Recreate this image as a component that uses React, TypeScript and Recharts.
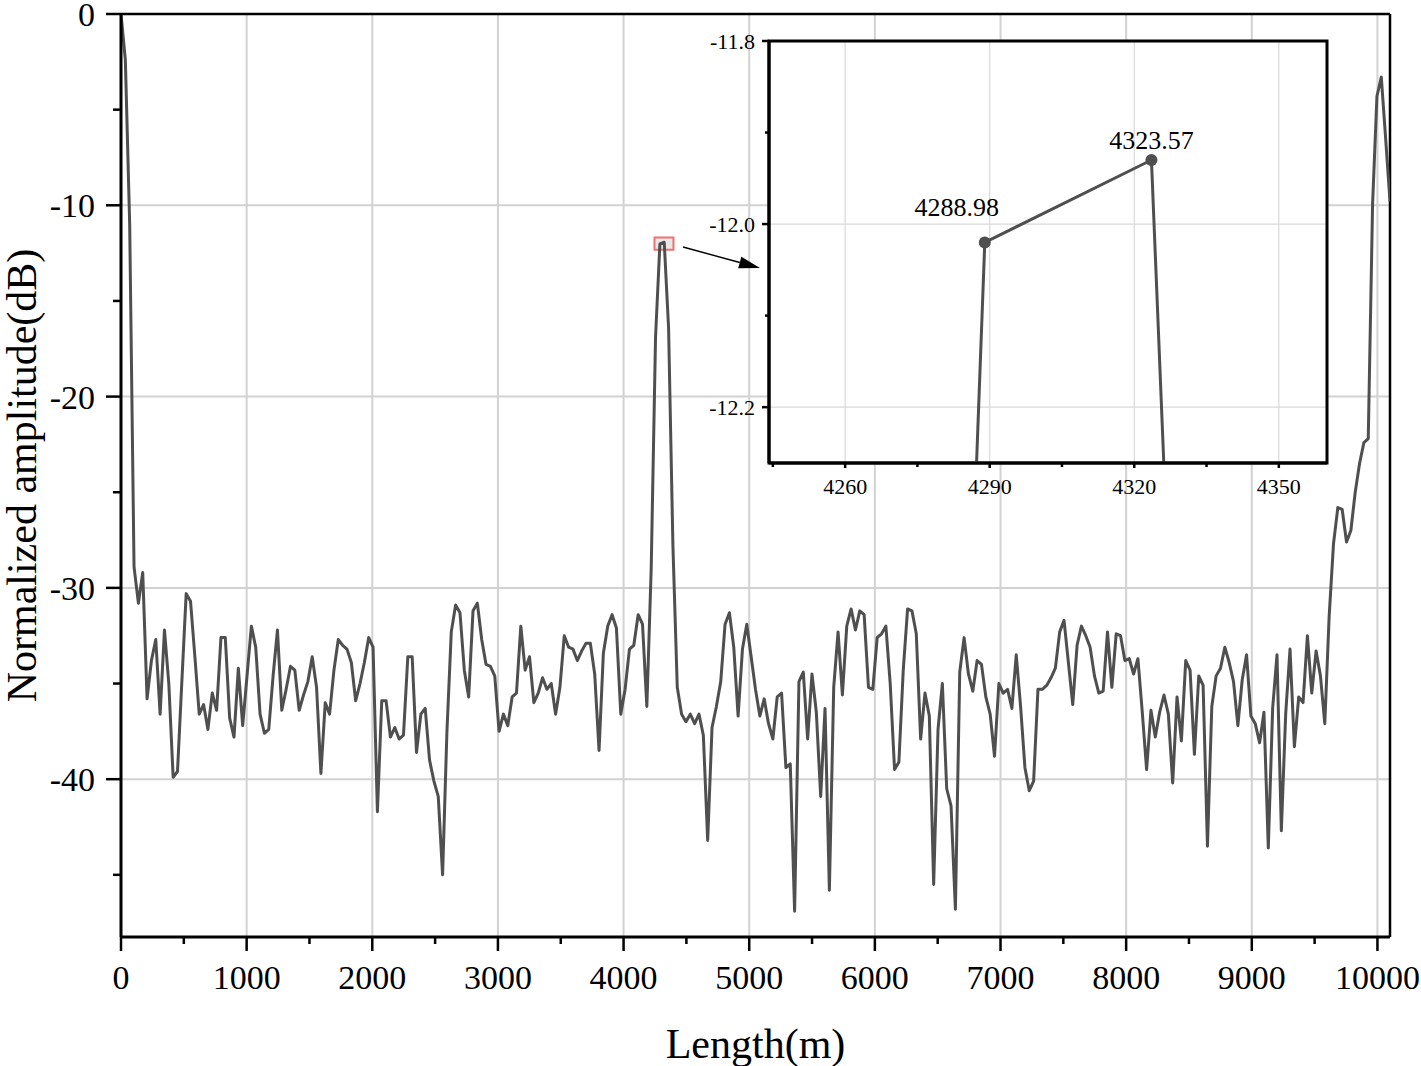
import { CartesianGrid, Line, LineChart, ReferenceArea, ReferenceLine, XAxis, YAxis } from "recharts";

const SERIF = '"Liberation Serif", "Times New Roman", serif';

// sample spacing of the trace, metres (4288.98 m is sample 124)
const STEP_M = 4288.98 / 124;

// normalized amplitude per sample, dB
const AMPLITUDE_DB = [
  0, -2.4, -11.0, -28.9, -30.8, -29.2, -35.8, -33.8, -32.7, -36.6,
  -32.2, -35.0, -39.9, -39.6, -34.9, -30.3, -30.7, -33.6, -36.6, -36.1,
  -37.4, -35.5, -36.4, -32.6, -32.6, -36.8, -37.8, -34.2, -37.2, -34.6,
  -32.0, -33.1, -36.6, -37.6, -37.4, -34.6, -32.2, -36.4, -35.3, -34.1,
  -34.3, -36.4, -35.6, -34.9, -33.6, -35.2, -39.7, -36.0, -36.6, -34.3,
  -32.7, -33.0, -33.2, -33.9, -35.9, -35.0, -33.9, -32.6, -33.1, -41.7,
  -35.9, -35.9, -37.8, -37.3, -37.9, -37.7, -33.6, -33.6, -38.6, -36.6,
  -36.3, -39.0, -40.1, -40.9, -45.0, -37.5, -32.3, -30.9, -31.3, -34.3,
  -35.7, -31.2, -30.8, -32.7, -34.0, -34.1, -34.6, -37.5, -36.6, -37.2,
  -35.7, -35.5, -32.0, -34.3, -33.6, -36.0, -35.5, -34.7, -35.3, -35.0,
  -36.6, -35.2, -32.5, -33.1, -33.2, -33.8, -33.3, -32.9, -32.9, -34.5,
  -38.5, -33.4, -32.0, -31.4, -32.1, -36.6, -35.3, -33.2, -33.0, -31.4,
  -31.9, -36.2, -29.0, -16.9, -12.02, -11.93, -16.4, -27.8, -35.2, -36.6,
  -37.0, -36.6, -37.1, -36.6, -37.7, -43.2, -37.3, -36.2, -34.9, -31.9,
  -31.3, -33.1, -36.7, -33.2, -31.9, -33.6, -35.3, -36.7, -35.8, -37.1,
  -37.9, -35.7, -35.5, -39.4, -39.2, -46.9, -34.9, -34.4, -37.9, -34.5,
  -36.5, -40.9, -36.3, -45.8, -35.2, -32.3, -35.6, -32.0, -31.1, -32.2,
  -31.2, -31.4, -35.2, -35.3, -32.6, -32.4, -32.0, -35.0, -39.5, -39.1,
  -34.3, -31.1, -31.2, -32.4, -37.9, -35.5, -36.7, -45.5, -37.4, -35.0,
  -40.5, -41.4, -46.8, -34.4, -32.6, -34.5, -35.4, -33.8, -34.0, -35.7,
  -36.6, -38.8, -35.0, -35.5, -35.3, -36.3, -33.5, -36.2, -39.4, -40.6,
  -40.1, -35.3, -35.3, -35.1, -34.7, -34.2, -32.3, -31.7, -33.9, -36.1,
  -33.0, -32.0, -32.5, -33.1, -34.6, -35.5, -35.4, -32.3, -35.2, -32.4,
  -32.5, -33.8, -33.7, -34.5, -33.7, -36.5, -39.5, -36.4, -37.8, -36.5,
  -35.6, -36.6, -40.2, -35.7, -38.0, -33.8, -34.3, -38.7, -34.6, -35.1,
  -43.5, -36.2, -34.6, -34.2, -33.1, -33.9, -34.9, -37.2, -34.8, -33.5,
  -36.7, -37.1, -38.1, -36.5, -43.6, -36.3, -33.5, -42.7, -36.6, -33.2,
  -38.3, -35.7, -36.0, -32.5, -35.5, -33.3, -34.6, -37.1, -31.5, -27.7,
  -25.8, -25.9, -27.6, -27.0, -25.0, -23.5, -22.4, -22.2, -9.9, -4.3,
  -3.3, -6.5, -9.8,
];

const X_TICKS = [0, 1000, 2000, 3000, 4000, 5000, 6000, 7000, 8000, 9000, 10000];
const X_MINOR = [500, 1500, 2500, 3500, 4500, 5500, 6500, 7500, 8500, 9500];
const Y_TICKS = [0, -10, -20, -30, -40];
const Y_MINOR = [-5, -15, -25, -35, -45];

const INSET_X_TICKS = [4260, 4290, 4320, 4350];
const INSET_X_MINOR = [4245, 4275, 4305, 4335];
const INSET_Y_TICKS = [-11.8, -12.0, -12.2];
const INSET_Y_MINOR = [-11.9, -12.1];
const PEAK_POINTS = [4288.98, 4323.57];

const traceData = AMPLITUDE_DB.map((y, i) => ({ x: i * STEP_M, y }));
const insetData = traceData.slice(122, 128);

const sortNum = (arr: number[]) => [...arr].sort((a, b) => a - b);

const makeBottomTick = (majors: number[], big: number, small: number, gap: number, fontSize: number, fmt: (v: number) => string) =>
  (props: any) => {
    const { x, y, payload } = props;
    const isMajor = majors.includes(payload.value);
    const len = isMajor ? big : small;
    return (
      <g>
        <line x1={x} x2={x} y1={y} y2={y + len} stroke="#000" strokeWidth={2.5} />
        {isMajor && (
          <text x={x} y={y + gap} dy="0.71em" textAnchor="middle" fontFamily={SERIF} fontSize={fontSize} fill="#000">
            {fmt(payload.value)}
          </text>
        )}
      </g>
    );
  };

const makeLeftTick = (majors: number[], big: number, small: number, gap: number, fontSize: number, fmt: (v: number) => string) =>
  (props: any) => {
    const { x, y, payload } = props;
    const isMajor = majors.includes(payload.value);
    const len = isMajor ? big : small;
    return (
      <g>
        <line x1={x - len} x2={x} y1={y} y2={y} stroke="#000" strokeWidth={2.5} />
        {isMajor && (
          <text x={x - gap} y={y} dy="0.355em" textAnchor="end" fontFamily={SERIF} fontSize={fontSize} fill="#000">
            {fmt(payload.value)}
          </text>
        )}
      </g>
    );
  };

const ArrowShape = (props: any) => {
  const { x1, y1, x2, y2 } = props;
  const ang = Math.atan2(y2 - y1, x2 - x1);
  const head = 21;
  const half = 6;
  const bx = x2 - head * Math.cos(ang);
  const by = y2 - head * Math.sin(ang);
  const nx = -Math.sin(ang) * half;
  const ny = Math.cos(ang) * half;
  return (
    <g>
      <line x1={x1} y1={y1} x2={bx} y2={by} stroke="#000" strokeWidth={1.4} />
      <polygon points={`${x2},${y2} ${bx + nx},${by + ny} ${bx - nx},${by - ny}`} fill="#000" />
    </g>
  );
};

const PeakDot = (props: any) => {
  const { cx, cy, payload, index } = props;
  const which = PEAK_POINTS.findIndex((p) => Math.abs(p - payload.x) < 0.01);
  if (which < 0) return <g key={`pd-${index}`} />;
  const dx = which === 0 ? -28 : 0;
  const dy = which === 0 ? -26 : -11;
  return (
    <g key={`pd-${index}`}>
      <circle cx={cx} cy={cy} r={6} fill="#4f4f4f" />
      <text x={cx + dx} y={cy + dy} textAnchor="middle" fontFamily={SERIF} fontSize={26} fill="#000">
        {PEAK_POINTS[which].toFixed(2)}
      </text>
    </g>
  );
};

const InsetChart = () => (
  <div style={{ position: "absolute", left: 700, top: 25 }}>
    <LineChart width={640} height={490} data={insetData} margin={{ top: 16, right: 13, bottom: 0, left: 0 }}>
      <CartesianGrid
        fill="#ffffff"
        fillOpacity={1}
        stroke="#d9d9d9"
        strokeWidth={1.2}
        verticalValues={INSET_X_TICKS}
        horizontalValues={INSET_Y_TICKS}
      />
      <XAxis
        type="number"
        dataKey="x"
        domain={[4244.2, 4360]}
        allowDataOverflow
        ticks={sortNum([...INSET_X_TICKS, ...INSET_X_MINOR])}
        interval={0}
        height={52}
        tickSize={0}
        tickMargin={0}
        tickLine={false}
        axisLine={{ stroke: "#000", strokeWidth: 3 }}
        tick={makeBottomTick(INSET_X_TICKS, 5, 4, 15, 22, (v) => String(v))}
      />
      <YAxis
        type="number"
        dataKey="y"
        domain={[-12.261, -11.8]}
        allowDataOverflow
        ticks={sortNum([...INSET_Y_TICKS, ...INSET_Y_MINOR])}
        interval={0}
        width={69}
        tickSize={0}
        tickMargin={0}
        tickLine={false}
        axisLine={{ stroke: "#000", strokeWidth: 3 }}
        tick={makeLeftTick(INSET_Y_TICKS, 7, 4, 14, 22, (v) => v.toFixed(1))}
      />
      <ReferenceArea x1={4244.2} x2={4360} y1={-12.261} y2={-11.8} fill="none" stroke="#000" strokeWidth={3} />
      <Line
        type="linear"
        dataKey="y"
        stroke="#4f4f4f"
        strokeWidth={3}
        dot={PeakDot}
        activeDot={false}
        isAnimationActive={false}
      />
    </LineChart>
  </div>
);

export default function App() {
  return (
    <div style={{ position: "absolute", left: 0, top: 0, width: 1421, height: 1066, background: "#fff" }}>
      <LineChart width={1421} height={1066} data={traceData} margin={{ top: 14, right: 31, bottom: 0, left: 0 }}>
        <CartesianGrid
          stroke="#d2d2d2"
          strokeWidth={2}
          verticalValues={X_TICKS.slice(1)}
          horizontalValues={Y_TICKS.slice(1)}
        />
        <XAxis
          type="number"
          dataKey="x"
          domain={[0, 10100]}
          allowDataOverflow
          ticks={sortNum([...X_TICKS, ...X_MINOR])}
          interval={0}
          height={129}
          tickSize={0}
          tickMargin={0}
          tickLine={false}
          axisLine={{ stroke: "#000", strokeWidth: 3 }}
          tick={makeBottomTick(X_TICKS, 14, 7, 28, 34, (v) => String(v))}
          label={{ value: "Length(m)", position: "insideBottom", offset: 8, style: { fontFamily: SERIF, fontSize: 42, fill: "#000" } }}
        />
        <YAxis
          type="number"
          dataKey="y"
          domain={[-48.25, 0]}
          allowDataOverflow
          ticks={sortNum([...Y_TICKS, ...Y_MINOR])}
          interval={0}
          width={121}
          tickSize={0}
          tickMargin={0}
          tickLine={false}
          axisLine={{ stroke: "#000", strokeWidth: 3 }}
          tick={makeLeftTick(Y_TICKS, 15, 8, 26, 34, (v) => String(v))}
          label={{
            value: "Normalized amplitude(dB)",
            angle: -90,
            position: "insideLeft",
            offset: 21,
            style: { textAnchor: "middle", fontFamily: SERIF, fontSize: 42, fill: "#000" },
          }}
        />
        <ReferenceLine y={0} stroke="#000" strokeWidth={2.5} />
        <ReferenceLine x={10100} stroke="#000" strokeWidth={2.5} />
        <ReferenceArea x1={4246} x2={4397} y1={-12.33} y2={-11.69} fill="#d8d8d8" fillOpacity={0.6} stroke="#f07070" strokeWidth={2} />
        <Line
          type="linear"
          dataKey="y"
          stroke="#4f4f4f"
          strokeWidth={3}
          strokeLinejoin="round"
          dot={false}
          activeDot={false}
          isAnimationActive={false}
        />
        <ReferenceLine
          segment={[
            { x: 4473, y: -12.18 },
            { x: 5086, y: -13.28 },
          ]}
          shape={ArrowShape}
        />
      </LineChart>
      <InsetChart />
    </div>
  );
}
